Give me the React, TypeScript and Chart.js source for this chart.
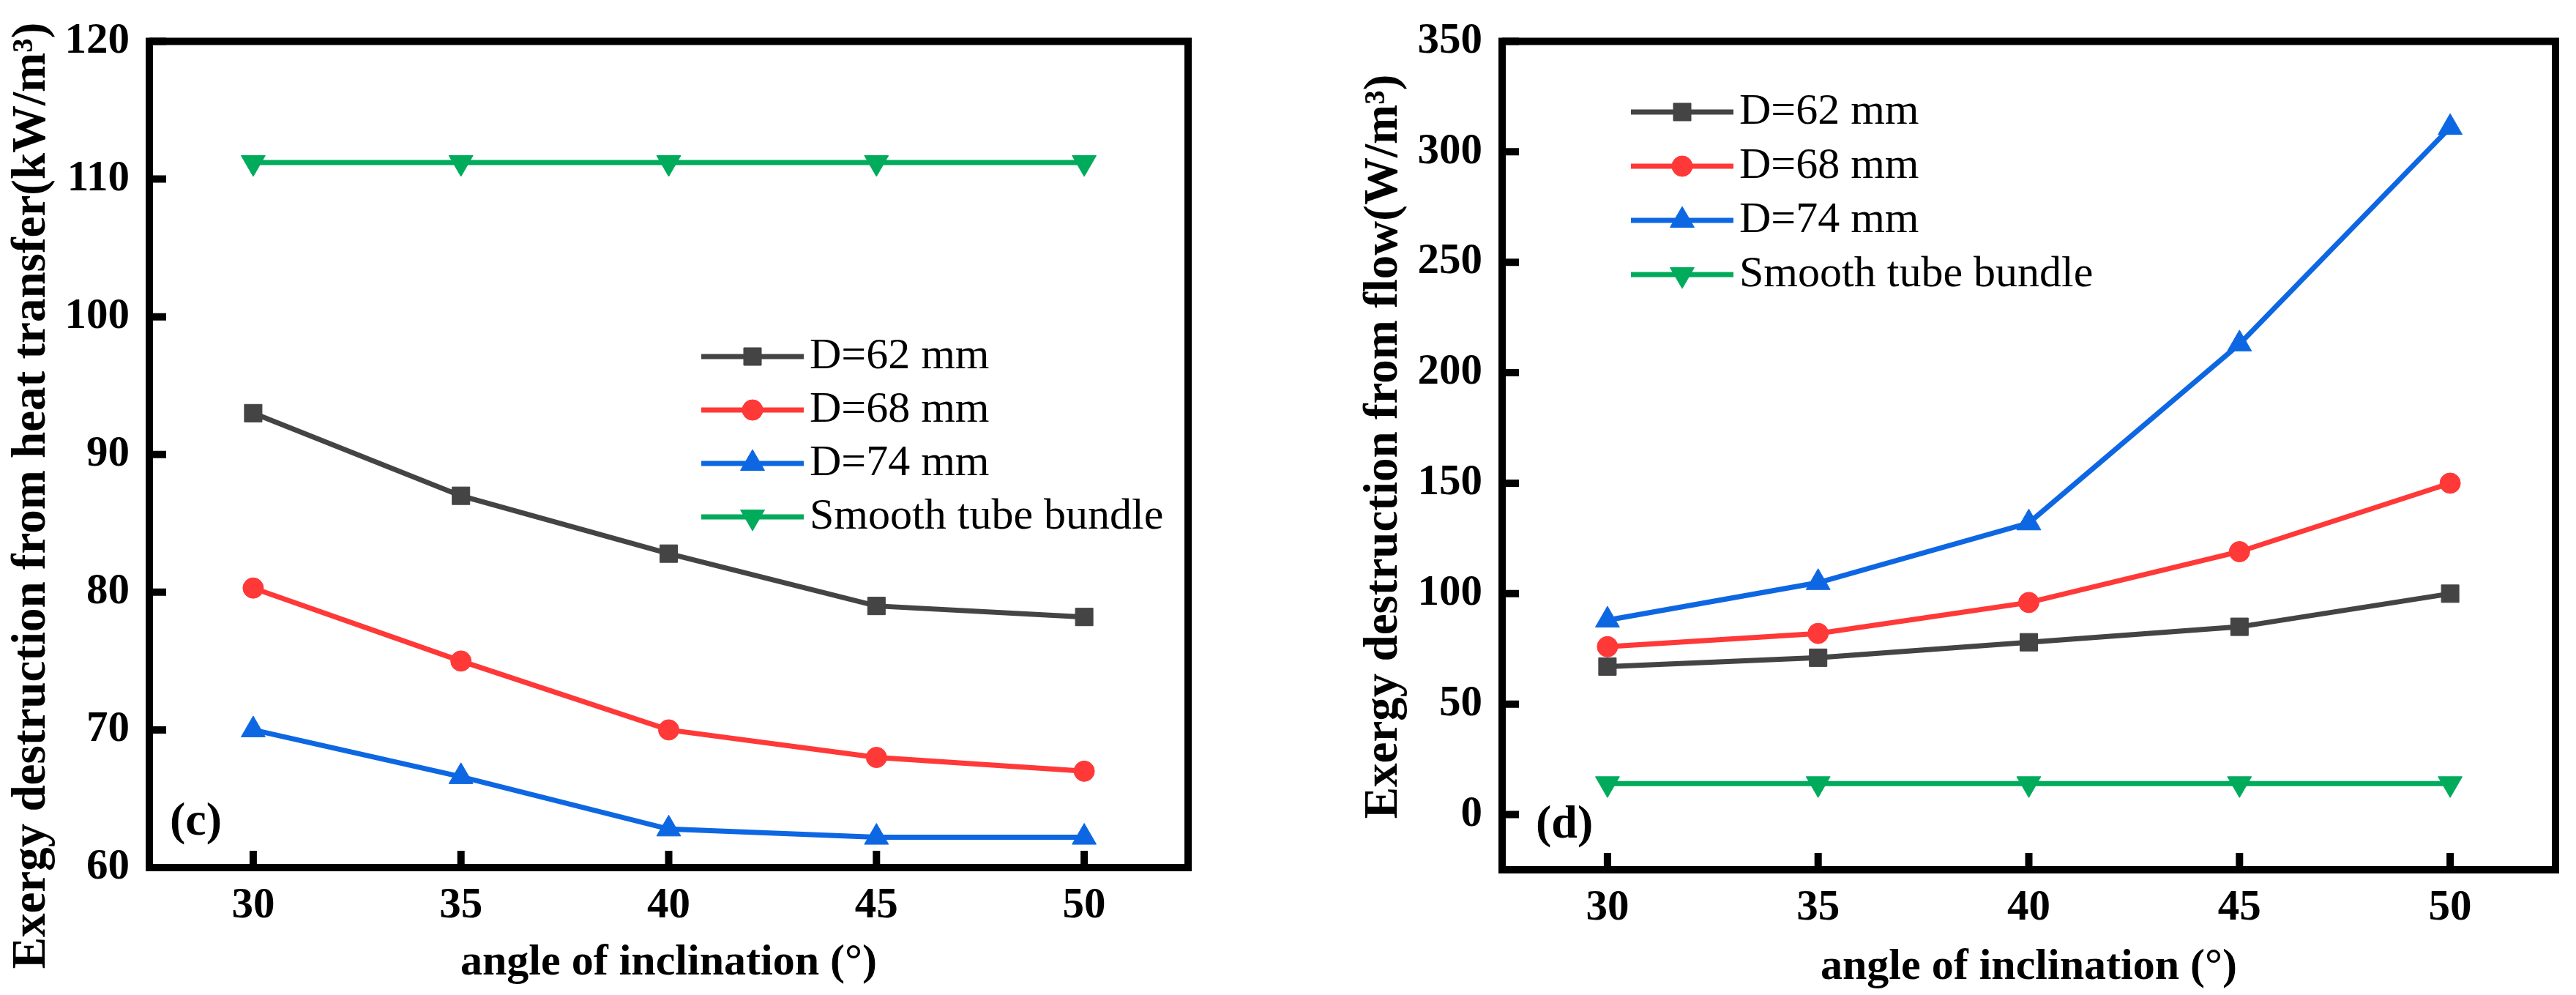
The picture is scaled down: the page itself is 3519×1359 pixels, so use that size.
import React, { useEffect, useRef } from 'react';
import { Chart, registerables } from 'chart.js';
import { drawPoint } from 'chart.js/helpers';

Chart.register(...registerables);

// inclination angle (degrees)
const angles = [30, 35, 40, 45, 50];
const seriesLabels = ['D=62 mm', 'D=68 mm', 'D=74 mm', 'Smooth tube bundle'];

// (c) exergy destruction from heat transfer, kW/m3
const heatD62 = [93.0, 87.0, 82.8, 79.0, 78.2];
const heatD68 = [80.3, 75.0, 70.0, 68.0, 67.0];
const heatD74 = [70.0, 66.6, 62.8, 62.2, 62.2];
const heatSmooth = [111.2, 111.2, 111.2, 111.2, 111.2];
const heatTicks = [60, 70, 80, 90, 100, 110, 120];

// (d) exergy destruction from flow, W/m3
const flowD62 = [67, 71, 78, 85, 100];
const flowD68 = [76, 82, 96, 119, 150];
const flowD74 = [88, 105, 132, 213, 311];
const flowSmooth = [14, 14, 14, 14, 14];
const flowTicks = [0, 50, 100, 150, 200, 250, 300, 350];

const FONT = "'Liberation Serif', 'Times New Roman', serif";
const H = 1359;
const colors = ['#444444', '#FF3838', '#0E67E2', '#00AB5C'];
const pointStyles = ['rect', 'circle', 'triangle', 'triangle'];
const pointRotations = [0, 0, 0, 180];
const pointRadii = [17, 14, 19, 19];

// frame, inward ticks, rotated y title, panel tag and legend
const decorPlugin = {
    id: 'decor',
    afterDraw(chart: any) {
        const o = chart.options.plugins.decor;
        const { ctx, chartArea: a, scales } = chart;
        ctx.save();
        ctx.strokeStyle = '#000';
        ctx.lineWidth = 10;
        ctx.beginPath();
        scales.x.ticks.forEach((t: any) => {
            const px = scales.x.getPixelForValue(t.value);
            ctx.moveTo(px, a.bottom);
            ctx.lineTo(px, a.bottom - 23);
        });
        scales.y.ticks.forEach((t: any) => {
            const py = scales.y.getPixelForValue(t.value);
            ctx.moveTo(a.left, py);
            ctx.lineTo(a.left + 23, py);
        });
        ctx.stroke();
        ctx.lineJoin = 'miter';
        ctx.strokeRect(a.left, a.top, a.right - a.left, a.bottom - a.top);

        // y title
        ctx.fillStyle = '#000';
        ctx.save();
        ctx.translate(o.yTitleX, o.yTitleY);
        ctx.rotate(-Math.PI / 2);
        ctx.font = `bold 65px ${FONT}`;
        ctx.textAlign = 'center';
        ctx.textBaseline = 'middle';
        ctx.fillText(o.yTitle, 0, 0);
        ctx.restore();

        // panel tag
        ctx.font = `bold 64px ${FONT}`;
        ctx.textAlign = 'left';
        ctx.textBaseline = 'middle';
        ctx.fillText(o.tag, o.tagX, o.tagY);

        // legend
        chart.data.datasets.forEach((ds: any, i: number) => {
            const y = o.legendY + i * o.legendStep;
            ctx.strokeStyle = ds.borderColor;
            ctx.lineWidth = 7;
            ctx.beginPath();
            ctx.moveTo(o.legendX, y);
            ctx.lineTo(o.legendX + 140, y);
            ctx.stroke();
            ctx.fillStyle = ds.borderColor;
            ctx.lineWidth = 1;
            drawPoint(ctx, {
                pointStyle: ds.pointStyle,
                rotation: ds.pointRotation,
                radius: ds.pointRadius,
                borderWidth: 1,
            } as any, o.legendX + 70, y);
            ctx.fillStyle = '#000';
            ctx.font = `60px ${FONT}`;
            ctx.textAlign = 'left';
            ctx.textBaseline = 'middle';
            ctx.fillText(ds.label, o.legendX + 148, y);
        });
        ctx.restore();
    },
};

interface PanelProps {
    left: number;
    width: number;
    series: number[][];
    yMin: number;
    yMax: number;
    yTicks: number[];
    area: { left: number; top: number; right: number; bottom: number };
    yTitle: string;
    yTitleX: number;
    yTitleY: number;
    tag: string;
    tagX: number;
    tagY: number;
    legendX: number;
    legendY: number;
    legendStep: number;
    xTitleBottom: number;
}

const Panel: React.FC<PanelProps> = (p) => {
    const chartRef = useRef<HTMLCanvasElement | null>(null);

    useEffect(() => {
        if (!chartRef.current) return;
        const ctx = chartRef.current.getContext('2d');
        if (!ctx) return;

        const myChart = new Chart(ctx, {
            type: 'line',
            data: {
                datasets: p.series.map((vals, i) => ({
                    label: seriesLabels[i],
                    data: angles.map((a, j) => ({ x: a, y: vals[j] })),
                    borderColor: colors[i],
                    backgroundColor: colors[i],
                    borderWidth: 7,
                    tension: 0,
                    pointStyle: pointStyles[i] as any,
                    pointRotation: pointRotations[i],
                    pointRadius: pointRadii[i],
                    pointBackgroundColor: colors[i],
                    pointBorderColor: colors[i],
                    pointBorderWidth: 1,
                    clip: false as any,
                })),
            },
            options: {
                animation: false,
                responsive: false,
                devicePixelRatio: 1,
                layout: {
                    padding: { left: 0, top: p.area.top, right: p.width - p.area.right, bottom: 0 },
                },
                scales: {
                    x: {
                        type: 'linear',
                        min: 27.5,
                        max: 52.5,
                        afterBuildTicks: (s: any) => {
                            s.ticks = angles.map((v) => ({ value: v }));
                        },
                        afterFit: (s: any) => {
                            s.height = H - p.area.bottom;
                        },
                        grid: { display: false, drawTicks: false },
                        border: { display: false },
                        ticks: {
                            autoSkip: false,
                            maxRotation: 0,
                            padding: 17,
                            color: '#000',
                            font: { family: FONT, size: 59, weight: 'bold' },
                        },
                        title: {
                            display: true,
                            text: 'angle of inclination (°)',
                            color: '#000',
                            padding: { top: 0, bottom: p.xTitleBottom },
                            font: { family: FONT, size: 60, weight: 'bold' },
                        },
                    },
                    y: {
                        type: 'linear',
                        min: p.yMin,
                        max: p.yMax,
                        afterBuildTicks: (s: any) => {
                            s.ticks = p.yTicks.map((v) => ({ value: v }));
                        },
                        afterFit: (s: any) => {
                            s.width = p.area.left;
                        },
                        grid: { display: false, drawTicks: false },
                        border: { display: false },
                        ticks: {
                            autoSkip: false,
                            padding: 27,
                            color: '#000',
                            font: { family: FONT, size: 59, weight: 'bold', lineHeight: 1 },
                        },
                    },
                },
                plugins: {
                    legend: { display: false },
                    tooltip: { enabled: false },
                    decor: {
                        yTitle: p.yTitle,
                        yTitleX: p.yTitleX,
                        yTitleY: p.yTitleY,
                        tag: p.tag,
                        tagX: p.tagX,
                        tagY: p.tagY,
                        legendX: p.legendX,
                        legendY: p.legendY,
                        legendStep: p.legendStep,
                    },
                } as any,
            },
            plugins: [decorPlugin],
        });

        return () => {
            myChart.destroy();
        };
    }, [p]);

    return (
        <div style={{ position: 'absolute', left: p.left, top: 0, width: p.width, height: H }}>
            <canvas ref={chartRef} width={p.width} height={H} style={{ width: p.width, height: H, display: 'block' }} />
        </div>
    );
};

const heatPanel: PanelProps = {
    left: 0,
    width: 1760,
    series: [heatD62, heatD68, heatD74, heatSmooth],
    yMin: 60,
    yMax: 120,
    yTicks: heatTicks,
    area: { left: 204, top: 40, right: 1623, bottom: 1185 },
    yTitle: 'Exergy destruction from heat transfer(kW/m³)',
    yTitleX: 44,
    yTitleY: 677,
    tag: '(c)',
    tagX: 232,
    tagY: 1123,
    legendX: 958,
    legendY: 487,
    legendStep: 73,
    xTitleBottom: 8,
};

const flowPanel: PanelProps = {
    left: 1760,
    width: 1759,
    series: [flowD62, flowD68, flowD74, flowSmooth],
    yMin: -25,
    yMax: 350,
    yTicks: flowTicks,
    area: { left: 292, top: 31, right: 1731, bottom: 1188 },
    yTitle: 'Exergy destruction from flow(W/m³)',
    yTitleX: 131,
    yTitleY: 610,
    tag: '(d)',
    tagX: 338,
    tagY: 1127,
    legendX: 468,
    legendY: 153,
    legendStep: 74,
    xTitleBottom: 2,
};

export default function App() {
    return (
        <div style={{ position: 'absolute', left: 0, top: 0, width: 3519, height: H, background: '#fff' }}>
            <Panel {...heatPanel} />
            <Panel {...flowPanel} />
        </div>
    );
}
